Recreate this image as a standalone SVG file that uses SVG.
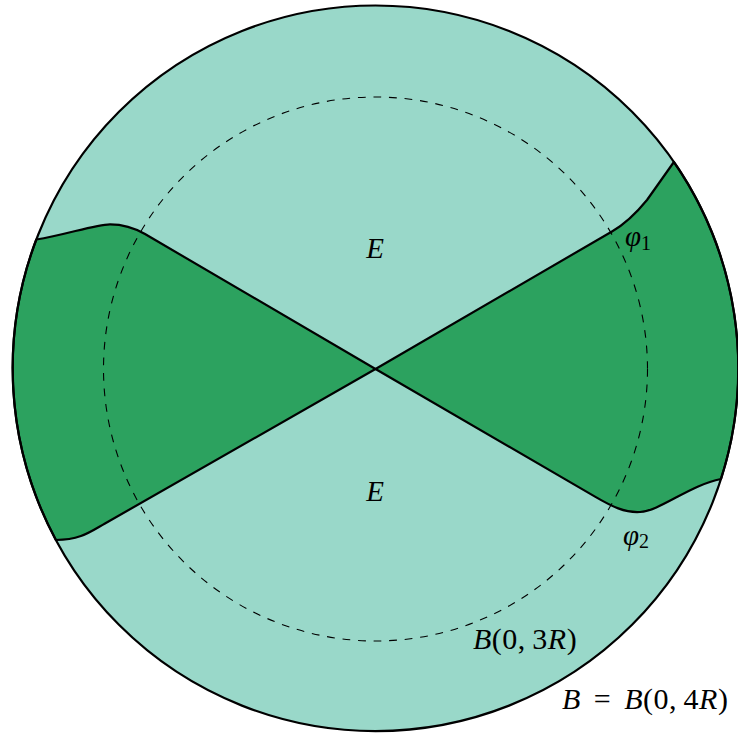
<svg xmlns="http://www.w3.org/2000/svg" width="738" height="733" viewBox="0 0 738 733">
<style>
.light{fill:#99d8c9}
.dark{fill:#2ca25f;stroke:#000;stroke-width:2.2;stroke-linejoin:round}
.outer{fill:none;stroke:#000;stroke-width:2.2}
.dashed{fill:none;stroke:#000;stroke-width:1.1;stroke-dasharray:7.8 7.8}
text{font-family:"Liberation Serif","DejaVu Serif",serif;font-size:29px;fill:#000}
.i{font-style:italic}
.u{font-style:normal}
.sub{font-size:20px;font-style:normal}
.lbl{font-size:30px;letter-spacing:0.5px;word-spacing:5px}
</style>
<g id="ball-B">
<circle class="light" cx="375.5" cy="368.3" r="362.8"/>
</g>
<g id="regions">
<path id="left-region" class="dark" d="M375.5 369 L145 234 C133 227 122 224.3 110 224.3 C95 224.5 65 235 36.3 239.5 A362.8 362.8 0 0 0 55.9 540 C80 540 90 532 105 523.5 Z"/>
<path id="right-region" class="dark" d="M375.5 369 L612 231.5 C625 224 638 211 647 200 L673.9 162 A362.8 362.8 0 0 1 721 479 C690 485 660 511 640 512 C625 513 612 506.5 595 496.6 Z"/>
</g>
<g id="circles">
<circle class="dashed" cx="375.5" cy="369" r="272"/>
<circle class="outer" cx="375.5" cy="368.3" r="362.8"/>
</g>
<g id="labels">
<text class="i" x="375" y="258" text-anchor="middle">E</text>
<text class="i" x="375" y="501" text-anchor="middle">E</text>
<text class="i" x="625" y="246">φ<tspan class="sub" dy="4">1</tspan></text>
<text class="i" x="623" y="544.5">φ<tspan class="sub" dy="3">2</tspan></text>
<text class="lbl" x="473" y="649"><tspan class="i">B</tspan><tspan class="u">(0,&#8201;3</tspan><tspan class="i">R</tspan><tspan class="u">)</tspan></text>
<text class="lbl" x="562" y="709"><tspan class="i">B</tspan><tspan class="u"> = </tspan><tspan class="i">B</tspan><tspan class="u">(0,&#8201;4</tspan><tspan class="i">R</tspan><tspan class="u">)</tspan></text>
</g>
</svg>
